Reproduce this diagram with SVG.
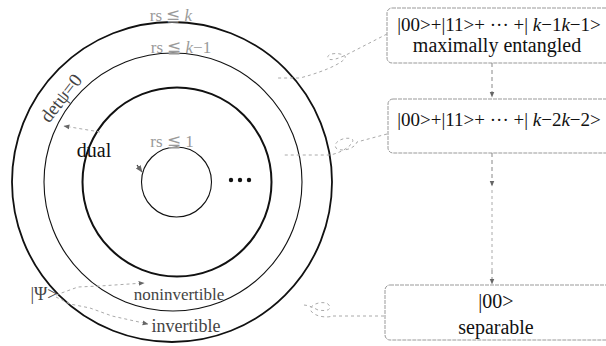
<svg xmlns="http://www.w3.org/2000/svg" width="606" height="346" viewBox="0 0 606 346">
<defs>
<style>
.t{font-family:"Liberation Serif","Times New Roman",serif;fill:#111;}
.g{font-family:"Liberation Serif","Times New Roman",serif;fill:#9a9a9a;}
.m{font-family:"Liberation Serif","Times New Roman",serif;fill:#444;}
.box{fill:#fff;stroke:#999;stroke-width:1;stroke-dasharray:4 1;}
.dash{fill:none;stroke:#aaa;stroke-width:1;stroke-dasharray:3 3;}
.arr{fill:none;stroke:#888;stroke-width:1;stroke-dasharray:4 3;}
.ring{fill:none;stroke:#111;}
</style>
<marker id="ah" viewBox="0 0 10 10" refX="9" refY="5" markerWidth="6" markerHeight="6" orient="auto-start-reverse">
<path d="M0,1 L10,5 L0,9 z" fill="#666"/>
</marker>
</defs>

<g id="rings">
<circle class="ring" cx="172" cy="182" r="160" stroke-width="1.8"/>
<circle class="ring" cx="173" cy="182" r="129" stroke-width="1.1"/>
<circle class="ring" cx="177" cy="182" r="94.5" stroke-width="2"/>
<circle class="ring" cx="176.5" cy="182" r="35" stroke-width="1.1"/>
<circle cx="231" cy="180" r="2.2" fill="#111"/>
<circle cx="240" cy="180" r="2.2" fill="#111"/>
<circle cx="249" cy="180" r="2.2" fill="#111"/>
</g>

<g id="ring-labels">
<text class="g" x="171" y="21" font-size="17" text-anchor="middle">rs ≦ <tspan font-style="italic">k</tspan></text>
<text class="g" x="181" y="53" font-size="17" text-anchor="middle">rs ≦ <tspan font-style="italic">k</tspan>−1</text>
<text class="g" x="172" y="147" font-size="17" text-anchor="middle">rs ≦ 1</text>
<text class="m" x="0" y="0" font-size="19" text-anchor="middle" transform="translate(66,102) rotate(-52)">detψ=0</text>
<text class="t" x="94" y="157" font-size="20" text-anchor="middle">dual</text>
<text class="m" x="44" y="300" font-size="18" text-anchor="middle">|Ψ&gt;</text>
<text class="m" x="179" y="300" font-size="17" text-anchor="middle">noninvertible</text>
<text class="m" x="186" y="332" font-size="18" text-anchor="middle">invertible</text>
</g>

<g id="box1">
<rect class="box" x="387" y="8" width="225" height="55" rx="5"/>
<text class="t" x="499" y="31" font-size="19" text-anchor="middle">|00&gt;+|11&gt;+ ··· +| <tspan font-style="italic">k</tspan>−1<tspan font-style="italic">k</tspan>−1&gt;</text>
<text class="t" x="497" y="52" font-size="20" text-anchor="middle">maximally entangled</text>
</g>
<g id="box2">
<rect class="box" x="388" y="99" width="225" height="54" rx="5"/>
<text class="t" x="499" y="126" font-size="19" text-anchor="middle">|00&gt;+|11&gt;+ ··· +| <tspan font-style="italic">k</tspan>−2<tspan font-style="italic">k</tspan>−2&gt;</text>
</g>
<g id="box3">
<rect class="box" x="385" y="285" width="228" height="55" rx="5"/>
<text class="t" x="496" y="308" font-size="20" text-anchor="middle">|00&gt;</text>
<text class="t" x="496" y="334" font-size="20" text-anchor="middle">separable</text>
</g>

<g id="connectors">
<path class="arr" d="M492,63 L492,97" marker-end="url(#ah)"/>
<path class="arr" d="M492,153 L492,186" marker-end="url(#ah)"/>
<path class="dash" d="M492,190 L492,270" stroke-dasharray="1 6"/>
<path class="arr" d="M492,270 L492,284" marker-end="url(#ah)"/>
<path class="dash" d="M387,34 L350,53 C340,58 330,62 328,58 C326,53 340,52 345,56 C348,60 330,70 300,78 L277,78"/>
<path class="dash" d="M387,134 L357,142 C354,150 340,152 336,148 C332,142 345,136 352,139 C356,142 345,152 330,155 L282,155"/>
<path class="dash" d="M384,316 L332,316 C328,318 315,317 311,311 C308,305 322,300 328,304 C332,308 330,312 318,310 C312,307 308,305 303,305"/>
<path class="dash" d="M100,132 L64,126" marker-end="url(#ah)"/>
<path d="M137,165 L142,172" stroke="#333" stroke-width="1.2" marker-end="url(#ah)"/>
<path class="dash" d="M56,295 L78,287 L100,286 L144,283" marker-end="url(#ah)"/>
<path class="dash" d="M56,297 L70,304 L90,308 L112,316 L148,324" marker-end="url(#ah)"/>
</g>
</svg>
